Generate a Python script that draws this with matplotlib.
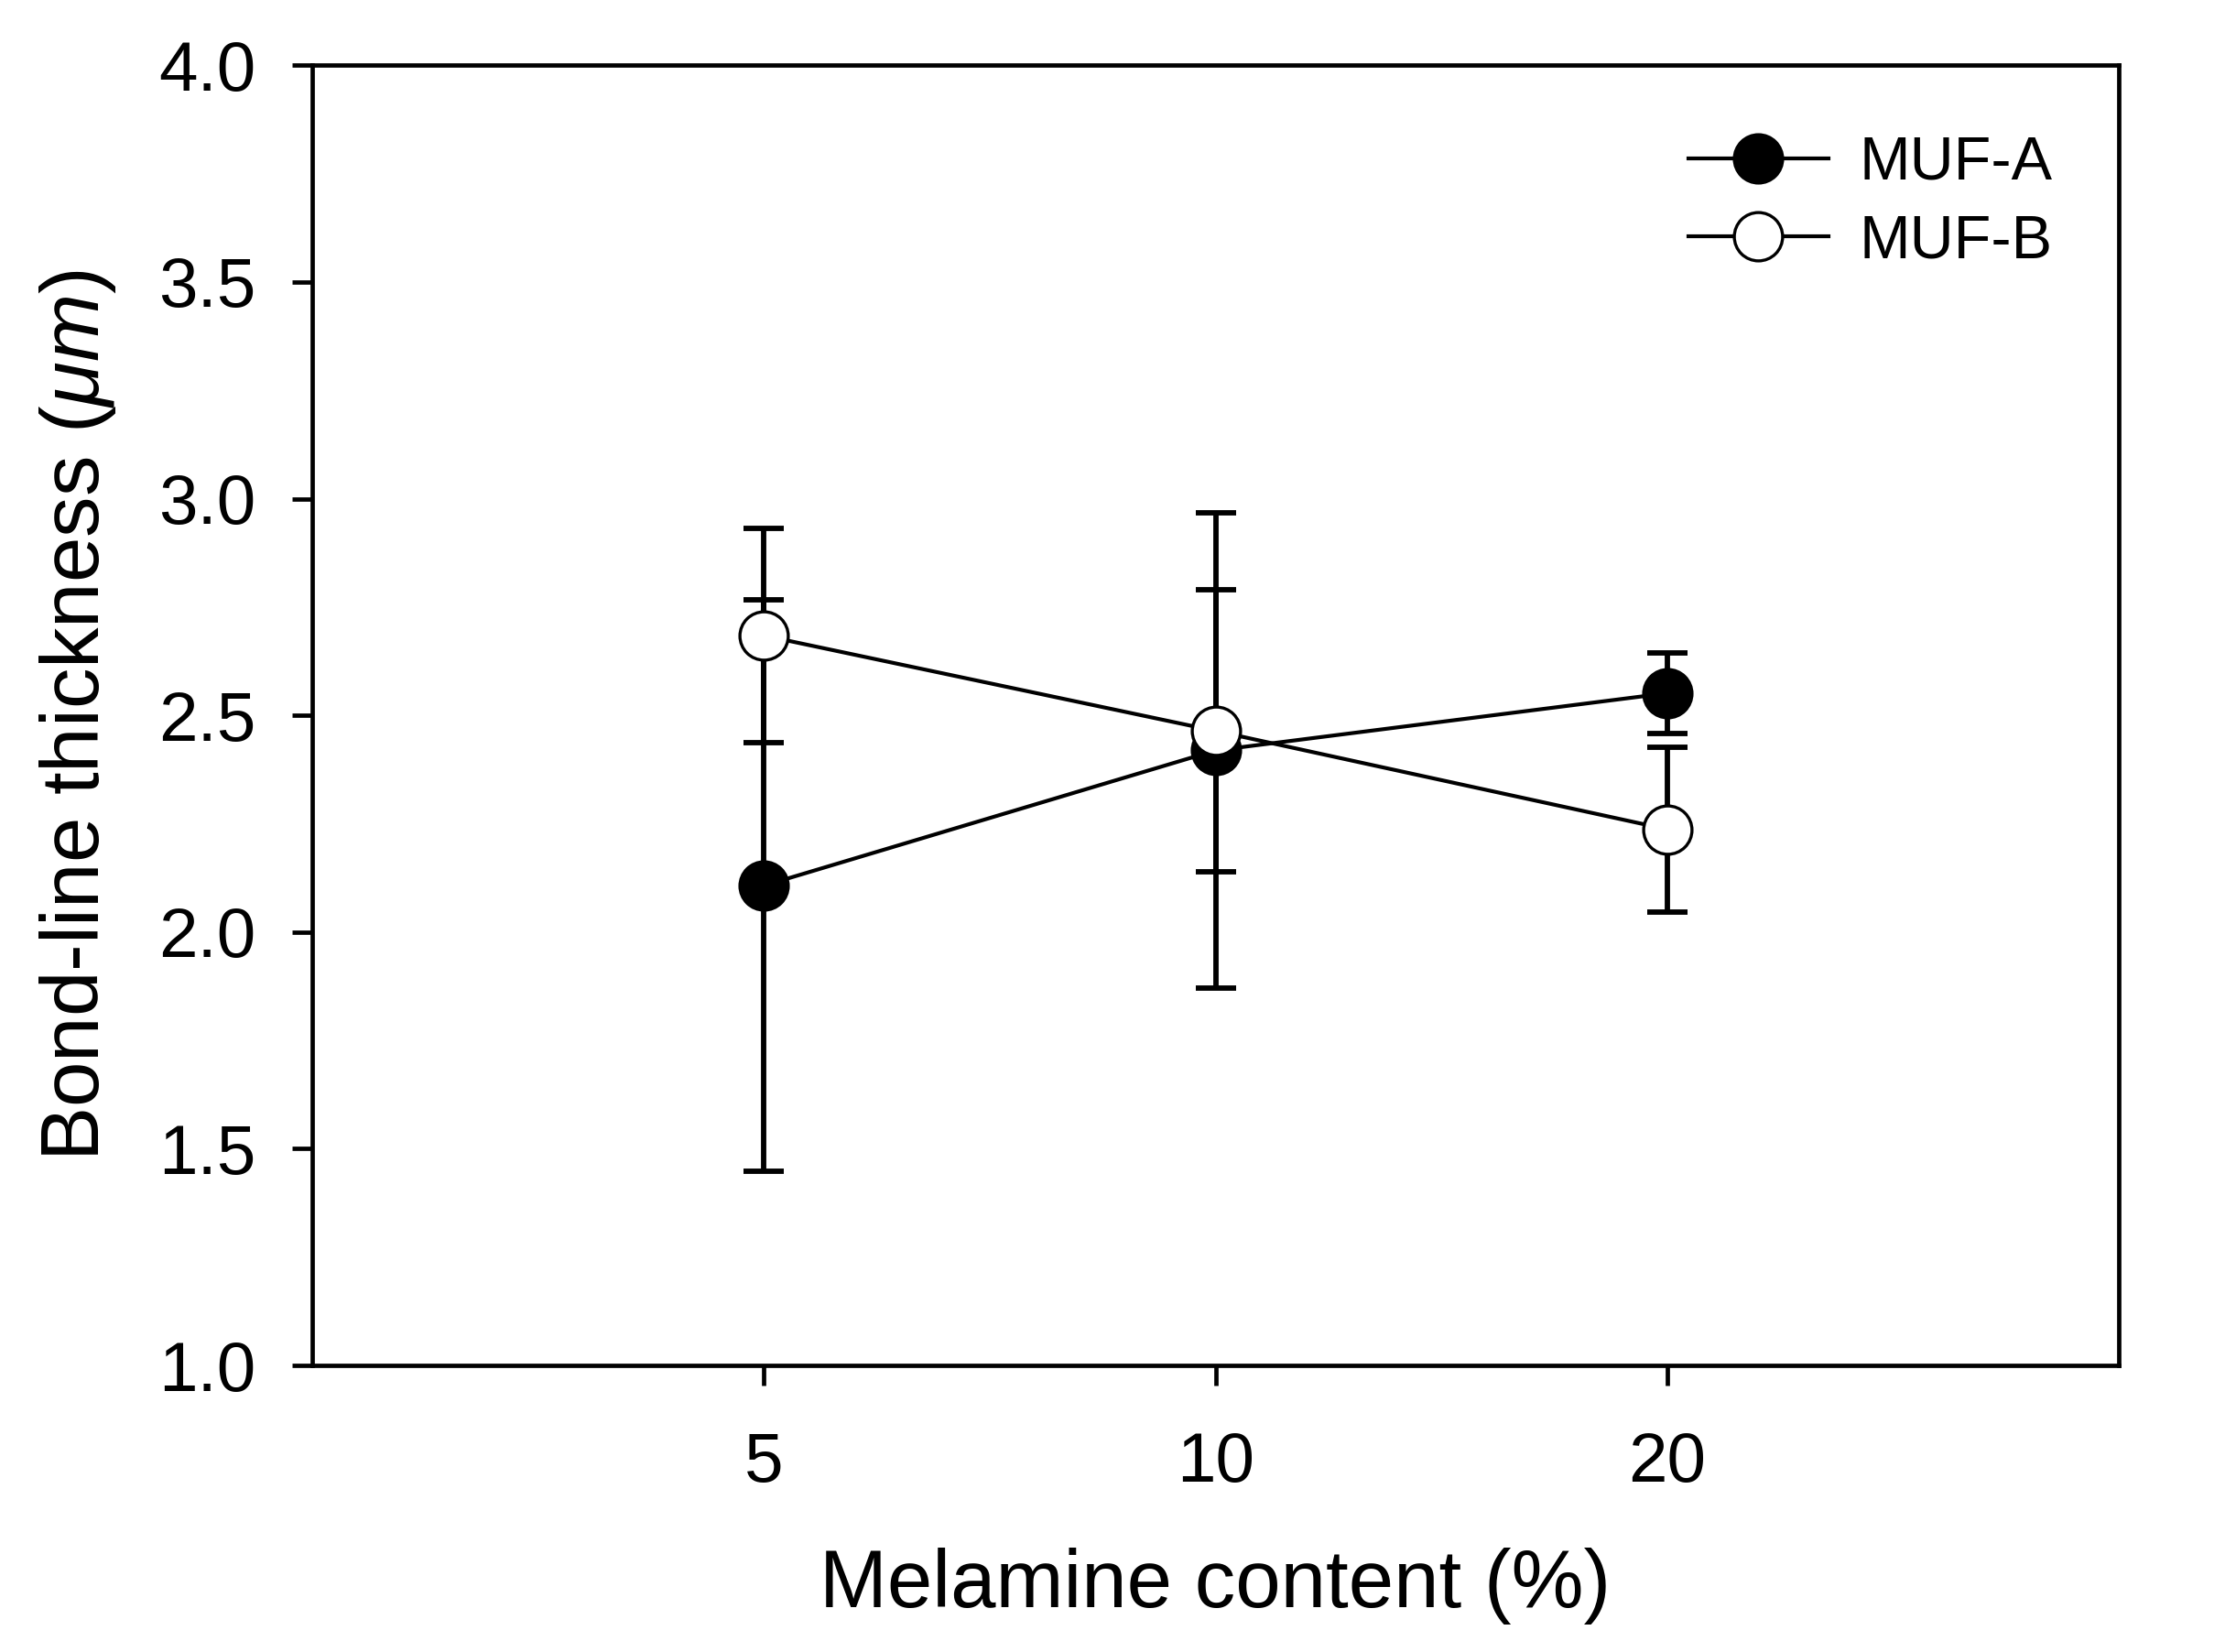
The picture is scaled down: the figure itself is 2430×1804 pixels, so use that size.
import matplotlib
matplotlib.use("Agg")
import matplotlib.pyplot as plt

plt.rcParams["font.family"] = ["Liberation Sans", "DejaVu Sans"]
plt.rcParams["mathtext.fontset"] = "custom"
plt.rcParams["mathtext.it"] = "Liberation Sans:italic"
plt.rcParams["mathtext.rm"] = "Liberation Sans"

categories = ["5", "10", "20"]
muf_a = [2.107, 2.419, 2.551]
muf_a_err = [0.66, 0.548, 0.092]
muf_b = [2.684, 2.464, 2.237]
muf_b_err = [0.248, 0.326, 0.19]

pos = list(range(1, len(categories) + 1))

fig = plt.figure(figsize=(12.15, 9.02), dpi=200)
ax = fig.add_axes([0.1403, 0.1735, 0.812, 0.787])

# error bars under the markers
ax.errorbar(pos, muf_a, yerr=muf_a_err, fmt="none", ecolor="black",
            elinewidth=2.1, capsize=8, capthick=2.1, zorder=2)
ax.errorbar(pos, muf_b, yerr=muf_b_err, fmt="none", ecolor="black",
            elinewidth=2.1, capsize=8, capthick=2.1, zorder=4)

la, = ax.plot(pos, muf_a, "-o", color="black", lw=1.5, ms=19,
              mfc="black", mec="black", mew=1.2, label="MUF-A", zorder=3)
lb, = ax.plot(pos, muf_b, "-o", color="black", lw=1.5, ms=19,
              mfc="white", mec="black", mew=1.2, label="MUF-B", zorder=5)

ax.set_xlim(0, 4)
ax.set_ylim(1.0, 4.0)
ax.set_xticks(pos)
ax.set_xticklabels(categories)
ax.set_yticks([1.0, 1.5, 2.0, 2.5, 3.0, 3.5, 4.0])
ax.set_yticklabels(["1.0", "1.5", "2.0", "2.5", "3.0", "3.5", "4.0"])
ax.tick_params(axis="both", direction="out", length=8, width=1.7,
               labelsize=27.5)
ax.tick_params(axis="y", pad=14)
ax.tick_params(axis="x", pad=18)
for s in ax.spines.values():
    s.set_linewidth(1.7)

ax.set_xlabel("Melamine content (%)", fontsize=32, labelpad=20)
ax.set_ylabel(r"Bond-line thickness ($\mu m$)", fontsize=32, labelpad=16)

ax.legend(handles=[la, lb], loc="upper right", frameon=False, fontsize=24,
          handlelength=2.3, handletextpad=0.5, labelspacing=0.35,
          borderaxespad=0.6, bbox_to_anchor=(0.997, 0.993))

fig.savefig("out.png", dpi=200)
